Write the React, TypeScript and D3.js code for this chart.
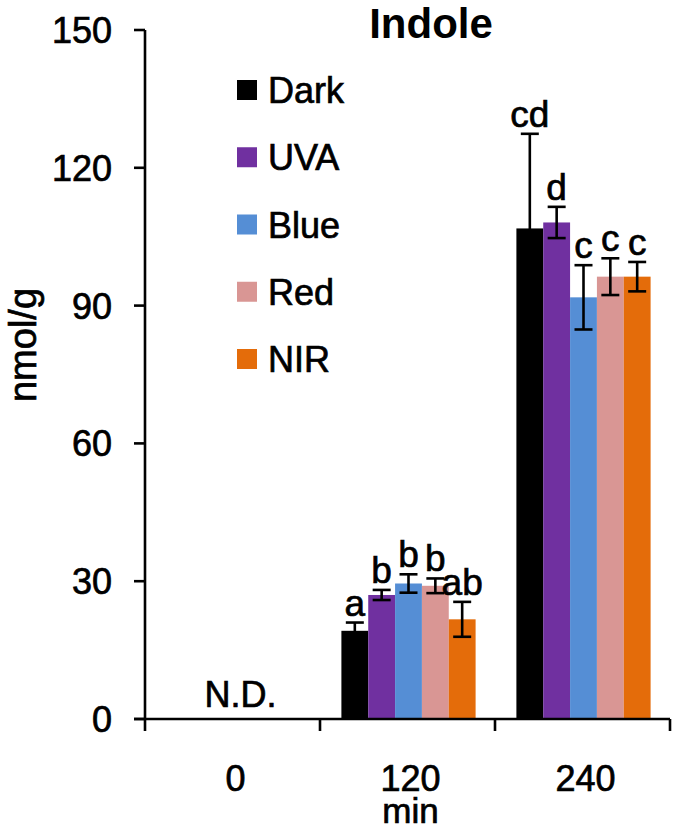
import React from "react";
import * as d3 from "d3";

const categories = ["0", "120", "240"];
const series = ["Dark", "UVA", "Blue", "Red", "NIR"];
const colors = ["#000000", "#7030a0", "#558ed5", "#d99694", "#e46c0a"];
// means per series for each category (null = not detected)
const meanDark = [null, 19.2, 106.8];
const meanUVA = [null, 27.0, 108.1];
const meanBlue = [null, 29.5, 91.8];
const meanRed = [null, 29.0, 96.3];
const meanNIR = [null, 21.7, 96.3];
const errDark = [null, 1.8, 20.6];
const errUVA = [null, 1.1, 3.4];
const errBlue = [null, 2.0, 7.0];
const errRed = [null, 1.6, 4.0];
const errNIR = [null, 3.8, 3.2];
const lettersDark = ["", "a", "cd"];
const lettersUVA = ["", "b", "d"];
const lettersBlue = ["", "b", "c"];
const lettersRed = ["", "b", "c"];
const lettersNIR = ["", "ab", "c"];
const yTicks = [0, 30, 60, 90, 120, 150];

const means = [meanDark, meanUVA, meanBlue, meanRed, meanNIR];
const errs = [errDark, errUVA, errBlue, errRed, errNIR];
const letters = [lettersDark, lettersUVA, lettersBlue, lettersRed, lettersNIR];

const W = 675;
const H = 833;
const FONT = "'Liberation Sans', Arial, sans-serif";
const heavy = { stroke: "#000", strokeWidth: 0.7 };

export default function App() {
  const y = d3.scaleLinear().domain([0, 150]).range([719, 30]);
  const x = d3.scaleBand<string>().domain(categories).range([145, 670]).padding(0);
  const xi = d3
    .scaleBand<string>()
    .domain(series)
    .range([0, x.bandwidth()])
    .paddingInner(0)
    .paddingOuter(0.76);
  const capHalf = 9;
  const legendY = d3.scalePoint<string>().domain(series).range([90, 359]);

  const bars: JSX.Element[] = [];
  const errorBars: JSX.Element[] = [];
  const labels: JSX.Element[] = [];
  categories.forEach((c, ci) => {
    series.forEach((s, si) => {
      const m = means[si][ci];
      const e = errs[si][ci];
      if (m == null || e == null) return;
      const x0 = (x(c) as number) + (xi(s) as number) + 1;
      const cx = x0 + xi.bandwidth() / 2;
      bars.push(
        <rect
          key={`b-${c}-${s}`}
          x={x0}
          y={y(m)}
          width={xi.bandwidth()}
          height={y(0) - y(m)}
          fill={colors[si]}
        />
      );
      const yt = y(m + e);
      const yb = y(m - e);
      errorBars.push(
        <g key={`e-${c}-${s}`} stroke="#000" strokeWidth={2.6}>
          <line x1={cx} x2={cx} y1={yt} y2={yb} />
          <line x1={cx - capHalf} x2={cx + capHalf} y1={yt} y2={yt} />
          <line x1={cx - capHalf} x2={cx + capHalf} y1={yb} y2={yb} />
        </g>
      );
      labels.push(
        <text
          key={`l-${c}-${s}`}
          x={cx}
          y={yt - 7}
          textAnchor="middle"
          fontSize={37}
          fontFamily={FONT}
          fill="#000"
          {...heavy}
        >
          {letters[si][ci]}
        </text>
      );
    });
  });

  return (
    <svg
      width={W}
      height={H}
      style={{ position: "absolute", left: 0, top: 0, background: "#fff" }}
    >
      <rect width={W} height={H} fill="#fff" />
      {/* title */}
      <text
        x={431}
        y={38}
        textAnchor="middle"
        fontSize={42}
        fontWeight="bold"
        fontFamily={FONT}
      >
        Indole
      </text>
      {/* bars */}
      {bars}
      {errorBars}
      {labels}
      {/* N.D. */}
      <text
        x={(x("0") as number) + x.bandwidth() / 2 + 8}
        y={707}
        textAnchor="middle"
        fontSize={36}
        fontFamily={FONT}
        {...heavy}
      >
        N.D.
      </text>
      {/* axes */}
      <g stroke="#000" strokeWidth={2.6}>
        <line x1={145} x2={145} y1={y(150)} y2={731} />
        {yTicks.map((t) => (
          <line key={`yt-${t}`} x1={134} x2={145} y1={y(t)} y2={y(t)} />
        ))}
        <line x1={134} x2={670} y1={y(0)} y2={y(0)} />
        {categories.map((c) => (
          <line
            key={`xt-${c}`}
            x1={(x(c) as number) + x.bandwidth()}
            x2={(x(c) as number) + x.bandwidth()}
            y1={y(0)}
            y2={731}
          />
        ))}
      </g>
      {yTicks.map((t) => (
        <text
          key={`yl-${t}`}
          x={112}
          y={y(t)}
          dy="0.36em"
          textAnchor="end"
          fontSize={36}
          fontFamily={FONT}
          {...heavy}
        >
          {t}
        </text>
      ))}
      {categories.map((c) => (
        <text
          key={`xl-${c}`}
          x={(x(c) as number) + x.bandwidth() / 2 + 3}
          y={791}
          textAnchor="middle"
          fontSize={36}
          fontFamily={FONT}
          {...heavy}
        >
          {c}
        </text>
      ))}
      <text
        x={(x("120") as number) + x.bandwidth() / 2 + 3}
        y={823}
        textAnchor="middle"
        fontSize={35}
        fontFamily={FONT}
        {...heavy}
      >
        min
      </text>
      <text
        transform={`translate(36,345) rotate(-90)`}
        textAnchor="middle"
        fontSize={38}
        fontFamily={FONT}
        {...heavy}
      >
        nmol/g
      </text>
      {/* legend */}
      {series.map((s, si) => (
        <g key={`lg-${s}`}>
          <rect
            x={237}
            y={(legendY(s) as number) - 10}
            width={20}
            height={20}
            fill={colors[si]}
          />
          <text
            x={268}
            y={(legendY(s) as number) + 13}
            fontSize={36}
            fontFamily={FONT}
            {...heavy}
          >
            {s}
          </text>
        </g>
      ))}
    </svg>
  );
}
